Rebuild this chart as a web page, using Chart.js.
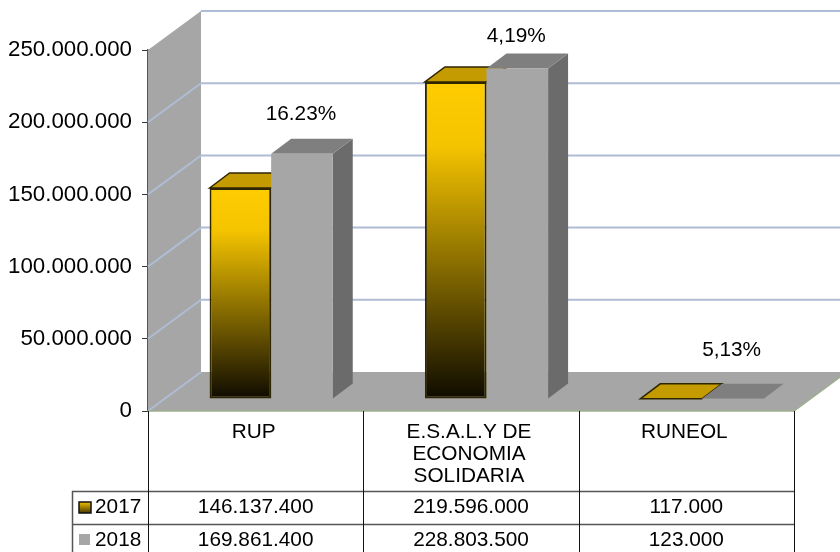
<!DOCTYPE html>
<html>
<head>
<meta charset="utf-8">
<style>
  html, body { margin: 0; padding: 0; background: #fff; overflow: hidden; }
  canvas { display: block; }
</style>
<script src="https://cdn.jsdelivr.net/npm/chart.js@4/dist/chart.umd.js"></script>
</head>
<body>
<canvas id="chart" width="840" height="552"></canvas>
<script>
// Data
const categories = [['RUP'], ['E.S.A.L.Y DE', 'ECONOMIA', 'SOLIDARIA'], ['RUNEOL']];
const seriesNames = ['2017', '2018'];
const values2017 = [146137400, 219596000, 117000];
const values2018 = [169861400, 228803500, 123000];
const growthLabels = ['16.23%', '4,19%', '5,13%'];
const growthLift = [39, 32, 49];

// 3D look: offsets of the back wall and of the bars
const wallDx = 53, wallDy = -39;
const barDx = 15.5, barDy = -12;
const depthDx = 20, depthDy = -15;
const fontName = '"Liberation Sans", Arial, sans-serif';
const textSize = 20.8;

// Format 146137400 as 146.137.400
function dotted(v) {
    return String(v).replace(/\B(?=(\d{3})+(?!\d))/g, '.');
}

function polygon(ctx, points, fill, stroke, lineWidth) {
    ctx.beginPath();
    points.forEach((p, i) => i ? ctx.lineTo(p[0], p[1]) : ctx.moveTo(p[0], p[1]));
    ctx.closePath();
    if (fill) { ctx.fillStyle = fill; ctx.fill(); }
    if (stroke) { ctx.strokeStyle = stroke; ctx.lineWidth = lineWidth || 1; ctx.stroke(); }
}

// Gold bars fade from yellow at the top down to black at the base
function goldGradient(context) {
    const yScale = context.chart.scales.y;
    if (context.raw === undefined || !yScale) return '#FFCC00';
    const top = yScale.getPixelForValue(context.raw);
    const bottom = yScale.getPixelForValue(0);
    if (!isFinite(top) || !isFinite(bottom)) return '#FFCC00';
    const g = context.chart.ctx.createLinearGradient(0, top, 0, bottom);
    g.addColorStop(0, '#FFCC00');
    g.addColorStop(0.2, '#F5C400');
    g.addColorStop(1, '#0E0B00');
    return g;
}

// Top and side faces of one dataset's bars
function drawDepth(chart, index) {
    const ctx = chart.ctx;
    const gold = index === 0;
    chart.getDatasetMeta(index).data.forEach(bar => {
        const l = bar.x - bar.width / 2, r = bar.x + bar.width / 2;
        polygon(ctx, [[r, bar.y], [r + depthDx, bar.y + depthDy], [r + depthDx, bar.base + depthDy], [r, bar.base]], gold ? '#7F6600' : '#6B6B6B');
        polygon(ctx, [[l, bar.y], [l + depthDx, bar.y + depthDy], [r + depthDx, bar.y + depthDy], [r, bar.y]],
            gold ? '#C49B00' : '#7F7F7F', gold ? '#2E2600' : null, 1.5);
    });
}

const roomPlugin = {
    id: 'room',
    // Walls, floor, grid and the gold depth faces, all behind the bars
    beforeDatasetsDraw(chart) {
        const ctx = chart.ctx, x = chart.scales.x, y = chart.scales.y;
        const top = y.getPixelForValue(250000000), base = y.getPixelForValue(0);
        ctx.save();
        polygon(ctx, [[x.left, top], [x.left + wallDx, top + wallDy], [x.left + wallDx, base + wallDy], [x.left, base]], '#A6A6A6');
        polygon(ctx, [[x.left, base], [x.left + wallDx, base + wallDy], [x.right + wallDx, base + wallDy], [x.right, base]], '#A6A6A6');
        ctx.strokeStyle = '#AEBCD4';
        ctx.lineWidth = 2;
        y.ticks.forEach(t => {
            const py = y.getPixelForValue(t.value);
            ctx.beginPath();
            if (t.value < 250000000) {
                ctx.moveTo(x.left, py);
                ctx.lineTo(x.left + wallDx, py + wallDy);
            } else {
                ctx.moveTo(x.left + wallDx, py + wallDy);
            }
            if (t.value > 0) ctx.lineTo(x.right + wallDx, py + wallDy);
            ctx.stroke();
        });
        // thin green edge of the floor
        ctx.strokeStyle = '#9DB08C';
        ctx.lineWidth = 1.5;
        ctx.beginPath();
        ctx.moveTo(x.left, base);
        ctx.lineTo(x.right, base);
        ctx.lineTo(x.right + wallDx, base + wallDy);
        ctx.stroke();
        ctx.translate(barDx, barDy);
        drawDepth(chart, 0);
        ctx.restore();
    },
    // Every dataset is shifted back to sit in the middle of the floor
    beforeDatasetDraw(chart, args) {
        chart.ctx.save();
        chart.ctx.translate(barDx, barDy);
        if (args.index === 1) drawDepth(chart, 1);
    },
    afterDatasetDraw(chart) {
        chart.ctx.restore();
    },
    // Data table and the growth labels
    afterDraw(chart) {
        const ctx = chart.ctx, x = chart.scales.x, y = chart.scales.y;
        const base = y.getPixelForValue(0);
        const rowTop = 491, rowH = 33, keyLeft = 72;
        const bottom = chart.height;
        const step = x.width / categories.length;
        ctx.save();
        ctx.strokeStyle = '#555555';
        ctx.lineWidth = 1.5;
        ctx.beginPath();
        ctx.moveTo(keyLeft + 0.5, rowTop);
        ctx.lineTo(keyLeft + 0.5, bottom);
        for (let r = 0; r < 2; r++) {
            ctx.moveTo(keyLeft, rowTop + rowH * r + 0.5);
            ctx.lineTo(x.right, rowTop + rowH * r + 0.5);
        }
        ctx.stroke();
        ctx.strokeStyle = '#111111';
        ctx.lineWidth = 1;
        for (let i = 0; i <= categories.length; i++) {
            const px = Math.round(x.left + step * i) + 0.5;
            ctx.beginPath();
            ctx.moveTo(px, base);
            ctx.lineTo(px, bottom);
            ctx.stroke();
        }

        ctx.fillStyle = '#000';
        ctx.font = textSize + 'px ' + fontName;
        ctx.textBaseline = 'middle';
        [values2017, values2018].forEach((vals, r) => {
            const cy = rowTop + rowH * r + 16.5;
            ctx.textAlign = 'left';
            ctx.fillStyle = '#000';
            ctx.fillText(seriesNames[r], 95, cy);
            ctx.textAlign = 'center';
            vals.forEach((v, i) => ctx.fillText(dotted(v), x.getPixelForValue(i), cy));
        });

        // Legend keys in the table
        const keyGrad = ctx.createLinearGradient(0, rowTop + 10, 0, rowTop + 23);
        keyGrad.addColorStop(0, '#FFCC00');
        keyGrad.addColorStop(1, '#3A2E00');
        ctx.fillStyle = keyGrad;
        ctx.strokeStyle = '#111';
        ctx.lineWidth = 1.5;
        ctx.fillRect(79, rowTop + 11, 12, 11);
        ctx.strokeRect(79, rowTop + 11, 12, 11);
        ctx.fillStyle = '#A6A6A6';
        ctx.fillRect(79, rowTop + rowH + 10, 11, 11);

        // Growth labels above the 2018 bars
        const grayBars = chart.getDatasetMeta(1).data;
        ctx.fillStyle = '#000';
        ctx.textAlign = 'center';
        growthLabels.forEach((label, i) => {
            ctx.fillText(label, grayBars[i].x + barDx - 1, grayBars[i].y + barDy - growthLift[i]);
        });
        ctx.restore();
    }
};

new Chart(document.getElementById('chart'), {
    type: 'bar',
    data: {
        labels: categories,
        datasets: [
            {
                label: seriesNames[0],
                data: values2017,
                clip: false,
                backgroundColor: goldGradient,
                borderColor: '#2E2600',
                borderWidth: 2,
                borderSkipped: false
            },
            {
                label: seriesNames[1],
                data: values2018,
                clip: false,
                backgroundColor: '#A6A6A6',
                borderWidth: 0
            }
        ]
    },
    options: {
        responsive: false,
        animation: false,
        layout: { padding: { top: 50, right: 46, left: 0, bottom: 0 } },
        plugins: { legend: { display: false }, tooltip: { enabled: false } },
        datasets: { bar: { categoryPercentage: 0.572, barPercentage: 1 } },
        scales: {
            x: {
                grid: { display: false },
                border: { display: false },
                afterFit(scale) { scale.height = 141; },
                ticks: {
                    color: '#000',
                    padding: 2,
                    labelOffset: -2,
                    maxRotation: 0,
                    autoSkip: false,
                    font: { family: fontName, size: textSize, lineHeight: 1.07 }
                }
            },
            y: {
                min: 0,
                max: 250000000,
                afterFit(scale) { scale.width = 148; },
                border: { color: '#555555', width: 1.5 },
                grid: { drawOnChartArea: false, drawTicks: true, tickLength: 6, tickColor: '#333333' },
                ticks: {
                    stepSize: 50000000,
                    color: '#000',
                    padding: 10,
                    callback: v => dotted(v),
                    font: { family: fontName, size: 22.3 }
                }
            }
        }
    },
    plugins: [roomPlugin]
});
</script>
</body>
</html>
